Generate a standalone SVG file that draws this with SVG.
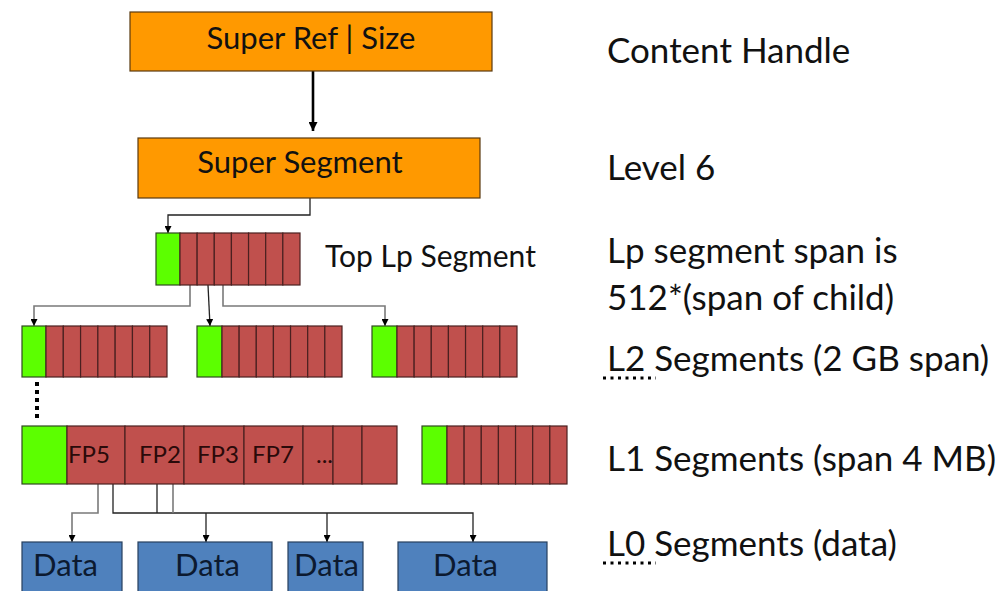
<svg xmlns="http://www.w3.org/2000/svg" width="1005" height="591" viewBox="0 0 1005 591">
  <style>
    .orange { fill: #FF9900; stroke: #5a3a10; stroke-width: 1.2; }
    .red { fill: #C0504D; stroke: #4a2020; stroke-width: 1.2; }
    .green { fill: #5CFF00; stroke: #2f4a20; stroke-width: 1.2; }
    .blue { fill: #4F81BD; stroke: #27405e; stroke-width: 1.2; }
    .t { font-family: Lato, "Open Sans", sans-serif; fill: #111; }
    .box { font-size: 31px; text-anchor: middle; }
    .fp { font-size: 24px; fill: #2a0a0a; }
    .data { font-size: 31px; fill: #0c1a30; }
    .lbl { font-size: 35px; }
    .top { font-size: 30px; }
    .wire { fill: none; stroke: #222; stroke-width: 1.3; }
    .wire-g { fill: none; stroke: #7a7a7a; stroke-width: 1.6; }
    .dots { fill: none; stroke: #000; stroke-width: 3; stroke-dasharray: 3 4.5; }
  </style>
  <defs>
    <marker id="arr" viewBox="0 0 10 10" refX="10" refY="5" markerWidth="7" markerHeight="7" markerUnits="userSpaceOnUse" orient="auto">
      <path d="M0,0 L10,5 L0,10 z" fill="#000"/>
    </marker>
    <marker id="arrBig" viewBox="0 0 10 10" refX="10" refY="5" markerWidth="9" markerHeight="9" markerUnits="userSpaceOnUse" orient="auto">
      <path d="M0,0 L10,5 L0,10 z" fill="#000"/>
    </marker>
  </defs>

  <!-- connectors -->
  <g id="connectors">
    <line x1="313" y1="71" x2="313" y2="131" stroke="#000" stroke-width="2.6" marker-end="url(#arrBig)"/>
    <polyline class="wire" points="310,198 310,215 168,215 168,233" marker-end="url(#arr)"/>
    <polyline class="wire-g" points="190,285 190,306 34,306 34,326" marker-end="url(#arr)"/>
    <line class="wire" x1="208" y1="285" x2="210" y2="326" marker-end="url(#arr)"/>
    <polyline class="wire-g" points="223,285 223,306 385,306 385,326" marker-end="url(#arr)"/>
    <polyline class="wire-g" points="98,484 98,513 72,513 72,542" marker-end="url(#arr)"/>
    <polyline class="wire" points="113,484 113,513 473,513 473,542" marker-end="url(#arr)"/>
    <polyline class="wire" points="157,484 157,513"/>
    <polyline class="wire-g" points="173,484 173,513"/>
    <line class="wire" x1="206" y1="513" x2="206" y2="542" marker-end="url(#arr)"/>
    <line class="wire" x1="327" y1="513" x2="327" y2="542" marker-end="url(#arr)"/>
    <line x1="37" y1="382" x2="37" y2="420" stroke="#000" stroke-width="4" stroke-dasharray="4 4"/>
  </g>

  <!-- handle and super segment -->
  <g id="super-ref">
    <rect class="orange" x="130" y="12" width="362" height="59"/>
    <text class="t box" x="311" y="49">Super Ref | Size</text>
  </g>
  <g id="super-segment">
    <rect class="orange" x="138" y="138" width="342" height="60"/>
    <text class="t box" x="300" y="173">Super Segment</text>
  </g>

  <!-- top Lp segment -->
  <g id="top-lp">
    <rect class="green" x="156" y="233" width="24" height="52"/>
    <rect class="red" x="180" y="233" width="17.14" height="52"/>
    <rect class="red" x="197.14" y="233" width="17.14" height="52"/>
    <rect class="red" x="214.28" y="233" width="17.14" height="52"/>
    <rect class="red" x="231.42" y="233" width="17.14" height="52"/>
    <rect class="red" x="248.56" y="233" width="17.14" height="52"/>
    <rect class="red" x="265.7" y="233" width="17.14" height="52"/>
    <rect class="red" x="282.84" y="233" width="17.16" height="52"/>
  </g>

  <!-- L2 segments -->
  <g id="l2-a">
    <rect class="green" x="22" y="326" width="24" height="51"/>
    <rect class="red" x="46" y="326" width="17.29" height="51"/>
    <rect class="red" x="63.29" y="326" width="17.29" height="51"/>
    <rect class="red" x="80.58" y="326" width="17.29" height="51"/>
    <rect class="red" x="97.87" y="326" width="17.29" height="51"/>
    <rect class="red" x="115.16" y="326" width="17.29" height="51"/>
    <rect class="red" x="132.45" y="326" width="17.29" height="51"/>
    <rect class="red" x="149.74" y="326" width="17.26" height="51"/>
  </g>
  <g id="l2-b">
    <rect class="green" x="197" y="326" width="25" height="51"/>
    <rect class="red" x="222" y="326" width="17.14" height="51"/>
    <rect class="red" x="239.14" y="326" width="17.14" height="51"/>
    <rect class="red" x="256.28" y="326" width="17.14" height="51"/>
    <rect class="red" x="273.42" y="326" width="17.14" height="51"/>
    <rect class="red" x="290.56" y="326" width="17.14" height="51"/>
    <rect class="red" x="307.7" y="326" width="17.14" height="51"/>
    <rect class="red" x="324.84" y="326" width="17.16" height="51"/>
  </g>
  <g id="l2-c">
    <rect class="green" x="372" y="326" width="25" height="51"/>
    <rect class="red" x="397" y="326" width="17.14" height="51"/>
    <rect class="red" x="414.14" y="326" width="17.14" height="51"/>
    <rect class="red" x="431.28" y="326" width="17.14" height="51"/>
    <rect class="red" x="448.42" y="326" width="17.14" height="51"/>
    <rect class="red" x="465.56" y="326" width="17.14" height="51"/>
    <rect class="red" x="482.7" y="326" width="17.14" height="51"/>
    <rect class="red" x="499.84" y="326" width="17.16" height="51"/>
  </g>

  <!-- L1 segments -->
  <g id="l1-a">
    <rect class="green" x="22" y="426" width="45" height="58"/>
    <rect class="red" x="67" y="426" width="58" height="58"/>
    <rect class="red" x="125" y="426" width="59" height="58"/>
    <rect class="red" x="184" y="426" width="60" height="58"/>
    <rect class="red" x="244" y="426" width="59" height="58"/>
    <rect class="red" x="303" y="426" width="30" height="58"/>
    <rect class="red" x="333" y="426" width="29" height="58"/>
    <rect class="red" x="362" y="426" width="35" height="58"/>
    <text class="t fp" x="68" y="463">FP5</text>
    <text class="t fp" x="139" y="463">FP2</text>
    <text class="t fp" x="197" y="463">FP3</text>
    <text class="t fp" x="252" y="463">FP7</text>
    <text class="t fp" x="316" y="463">...</text>
  </g>
  <g id="l1-b">
    <rect class="green" x="422" y="426" width="25" height="58"/>
    <rect class="red" x="447" y="426" width="17.14" height="58"/>
    <rect class="red" x="464.14" y="426" width="17.14" height="58"/>
    <rect class="red" x="481.28" y="426" width="17.14" height="58"/>
    <rect class="red" x="498.42" y="426" width="17.14" height="58"/>
    <rect class="red" x="515.56" y="426" width="17.14" height="58"/>
    <rect class="red" x="532.7" y="426" width="17.14" height="58"/>
    <rect class="red" x="549.84" y="426" width="17.16" height="58"/>
  </g>

  <!-- L0 data segments -->
  <g id="data-1">
    <rect class="blue" x="22" y="542" width="100" height="60"/>
    <text class="t data" x="33" y="576">Data</text>
  </g>
  <g id="data-2">
    <rect class="blue" x="138" y="542" width="134" height="60"/>
    <text class="t data" x="175" y="576">Data</text>
  </g>
  <g id="data-3">
    <rect class="blue" x="288" y="542" width="75" height="60"/>
    <text class="t data" x="294" y="576">Data</text>
  </g>
  <g id="data-4">
    <rect class="blue" x="398" y="542" width="149" height="60"/>
    <text class="t data" x="433" y="576">Data</text>
  </g>

  <!-- level labels -->
  <g id="labels">
    <text class="t top" x="325" y="267">Top Lp Segment</text>
    <text class="t lbl" x="607" y="63">Content Handle</text>
    <text class="t lbl" x="607" y="180">Level 6</text>
    <text class="t lbl" x="607" y="263">Lp segment span is</text>
    <text class="t lbl" x="607" y="310">512*(span of child)</text>
    <text class="t lbl" x="607" y="371">L2 Segments (2 GB span)</text>
    <text class="t lbl" x="607" y="471">L1 Segments (span 4 MB)</text>
    <text class="t lbl" x="607" y="556">L0 Segments (data)</text>
    <line class="dots" x1="603" y1="378" x2="656" y2="378"/>
    <line class="dots" x1="603" y1="563" x2="656" y2="563"/>
  </g>
</svg>
